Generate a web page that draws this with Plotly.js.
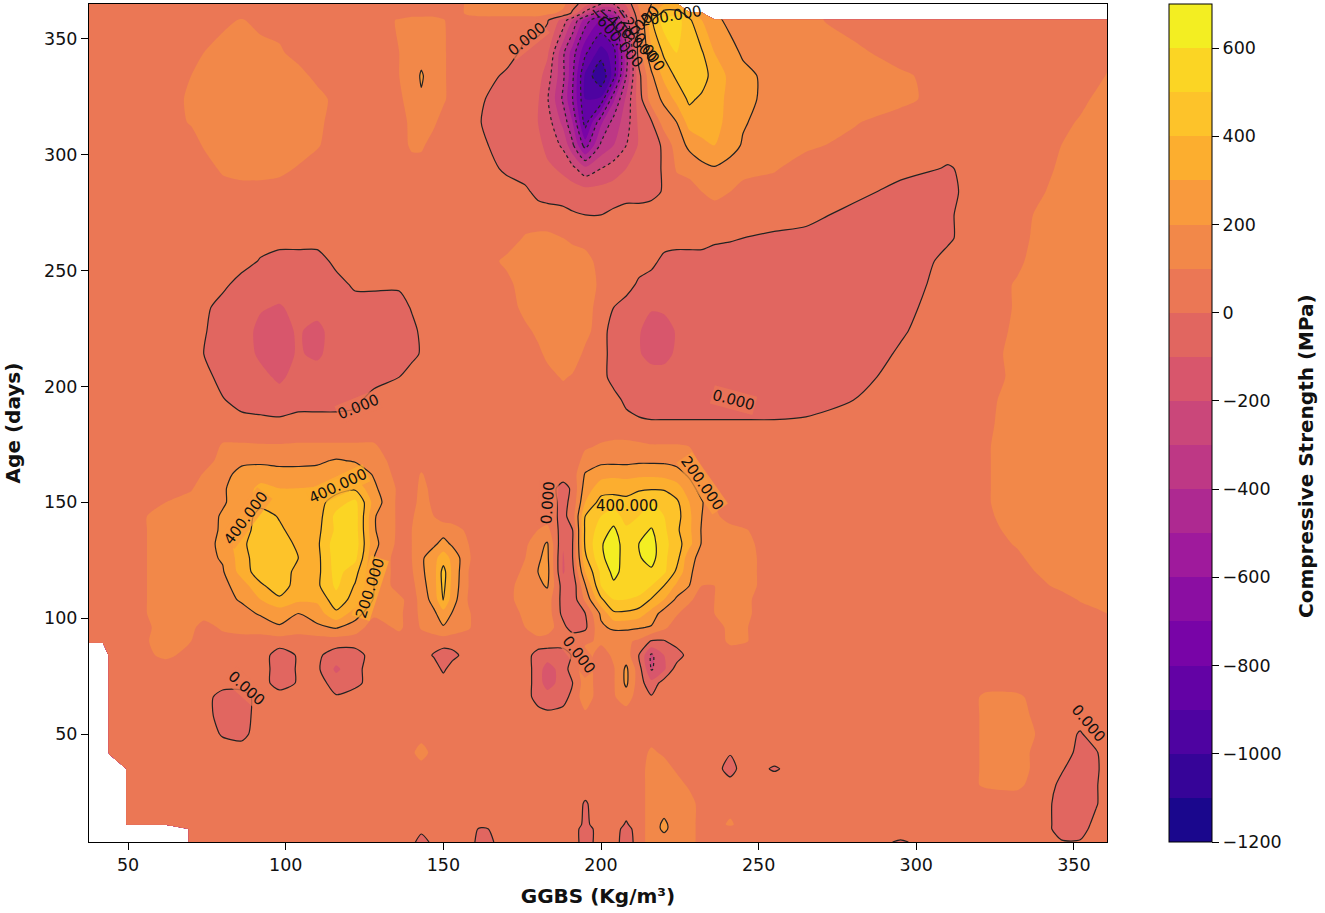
<!DOCTYPE html>
<html><head><meta charset="utf-8">
<script src="https://cdn.plot.ly/plotly-3.0.1.min.js"></script>
<style>html,body{margin:0;padding:0;background:#fff}#c{width:1325px;height:913px}</style>
</head><body><div id="c"></div>
<script>
const n=null, F=[5,5,5,5,5], N=[n,n,n,n,n], H=[15,15,15,15,15], M=[-5,-5,-5,-5,-5];
const ggbs=[37.6,42,44,50,62, 70,74,80,86,92, 98,104,110,116,122, 128,136,140,143,147, 150,153,158,162,170, 176,180,183,188,191, 195,200,204,208,212, 216,220,224,228,232, 236,241,245,255,265, 280,295,310,322,332, 340,346,352,357,360.5];
const age=[3.4,9,11,20,28,35,42,50,58,66,72,78,84,90,96,102,108,114,120,126,132,138,144,150,156,162,168,174,184,194,204,214,224,234,244,254,264,274,284,294,304,314,324,334,344,358,361,365];
// strength, in tens of MPa, one row per age
const strengthTens=[
[...N, 5,5,5,5,5, ...F, 5,5,5,-8,5, 5,5,5,-5,5, ...F, -5,5,5,-6,5, 15,15,15,15,5, ...F, 5,-1,5,5,5, 5,1,1,5,5],
[...N, ...F, ...F, ...F, 5,5,5,-2,5, ...F, -5,5,5,-4,5, 15,22,15,15,5, ...F, ...F, 5,-5,-5,5,5],
[n,n,n,5,5, ...F, ...F, ...F, ...F, ...F, -2,5,5,-1,5, 15,22,15,15,5, 5,12,5,5,5, ...F, 5,-5,-5,3,5],
[n,n,n,5,5, ...F, ...F, ...F, ...F, ...F, -1,5,5,5,5, 15,15,15,15,5, ...F, ...F, 5,-5,-5,-1,5],
[n,n,n,5,5, ...F, ...F, ...F, ...F, ...F, ...F, 15,15,15,8,5, ...F, 5,5,5,11,12, 5,-2,-5,-1,5],
[n,n,n,5,5, ...F, ...F, ...F, ...F, ...F, ...F, 15,15,8,5,5, 5,-5,5,-1,5, 5,5,5,11,15, 5,1,-5,-2,5],
[n,n,5,5,5, ...F, ...F, 5,5,8,15,6, ...F, ...F, ...F, 12,8,5,5,5, 5,1,5,5,5, 5,5,5,11,15, 5,5,-3,-1,5],
[n,n,5,5,5, 5,5,-1,-3,5, ...F, ...F, ...F, ...F, ...F, ...F, ...F, 5,5,5,11,15, 8,5,-1,5,5],
[n,n,5,5,5, 5,5,-5,-5,5, ...F, ...F, ...F, 5,5,2,5,5, 8,5,5,5,5, ...F, ...F, 5,5,5,11,15, ...F],
[n,n,5,5,5, 5,5,-5,-5,5, 5,5,5,1,5, ...F, ...F, 5,-5,-5,-5,4, 15,5,9,15,5, 1,5,5,5,5, ...F, 5,5,5,11,12, ...F],
[n,n,5,5,5, ...F, -5,1,5,-5,-3, ...F, ...F, 5,-5,-15,-5,0, 15,5,9,22,5, -7,5,5,5,5, ...F, 5,5,5,8,5, ...F],
[n,n,5,5,5, ...F, -5,1,2,-12,-3, ...F, -2,5,5,5,5, 5,-5,-15,-5,5, 15,5,9,22,5, -21,-12,5,5,5, ...F, ...F, ...F],
[n,n,5,5,12, 7,5,5,5,5, -5,1,2,-5,-5, 5,5,5,5,-1, -5,-3,5,5,5, 5,-5,-5,-5,1, 15,5,12,15,0, -22,-10,-6,5,5, ...F, ...F, ...F],
[5,5,5,5,14, 10,5,5,5,5, ...F, ...F, ...F, 5,7,5,5,8, 8,12,12,12,8, -1,-1,5,5,5, 5,12,11,5,5, ...F, ...F],
[5,5,5,5,13, 13,5,12,15,15, 19,15,18,21,15, 5,12,5,11,15, 19,15,11,5,5, 10,15,15,3,-5, -2,18,22,22,21, 19,12,5,5,5, 5,13,11,5,5, ...F, ...F],
[5,5,5,5,15, 15,15,15,17,21, 24,20,25,38,25, 12,12,5,13,18, 26,19,11,5,5, 12,15,15,-3,-6, 0,22,38,38,35, 26,15,11,5,5, 10,15,12,5,5, ...F, 5,5,5,7,10],
[5,5,5,5,15, 15,15,17,21,30, 38,32,32,46,36, 19,13,5,14,24, 41,24,9,5,8, 13,15,15,-4,-6, 12,38,50,50,48, 39,30,18,12,5, 10,15,12,5,5, ...F, 5,5,11,15,15],
[5,5,5,5,15, 15,15,17,25,38, 46,35,38,52,39, 20,5,7,16,26, 43,26,10,5,7, 14,18,21,-5,-7, 19,50,58,55,55, 50,40,28,20,10, 10,15,14,5,5, ...F, 8,13,15,15,15],
[5,5,5,5,15, 15,16,19,34,46, 47,36,37,54,44, 20,5,9,18,26, 44,27,10,5,5, 12,20,23,-11,-3, 30,52,63,56,56, 58,52,38,22,14, 11,15,14,5,5, ...F, 12,15,15,15,15],
[5,5,5,5,15, 15,17,21,35,47, 50,40,37,55,53, 20,5,10,18,27, 35,27,11,5,5, 10,19,22,-11,0, 38,58,65,55,59, 64,52,44,23,17, 12,15,14,5,5, 5,5,5,5,8, ...H],
[5,5,5,5,15, 15,17,22,37,48, 50,36,38,56,56, 23,7,10,15,18, 24,18,10,5,5, 8,17,21,-9,0, 42,59,65,55,60, 64,53,45,33,19, 14,15,13,5,5, 5,5,5,5,11, ...H],
[5,5,5,5,15, 15,17,21,34,46, 42,35,37,52,55, 21,8,10,14,15, 15,14,8,5,5, 5,10,13,-6,0, 42,55,62,52,56, 61,52,42,32,19, 15,13,11,5,5, 5,5,5,5,15, ...H],
[5,5,5,5,15, 15,16,21,32,45, 39,33,35,53,55, 21,8,9,14,10, 6,5,5,5,5, 5,5,5,-3,5, 40,50,55,46,50, 55,50,44,32,20, 12,6,5,5,5, 5,5,5,8,15, ...H],
[5,5,5,5,10, 14,15,19,24,36, 32,33,36,45,53, 26,7,6,14,8, ...F, 5,5,5,-3,3, 30,44,45,43,48, 50,46,42,30,21, 10,5,5,5,5, 5,5,5,9,15, ...H],
[...F, 9,15,19,24,33, 30,30,31,36,38, 22,8,5,13,7, ...F, 5,5,5,-4,2, 25,35,36,36,38, 39,39,34,25,15, 8,5,5,5,5, 5,5,5,9,15, ...H],
[...F, 5,11,17,23,25, 24,24,24,27,27, 19,6,5,11,5, ...F, ...F, 21,27,28,27,28, 28,27,25,18,12, ...F, 5,5,5,9,15, ...H],
[...F, 5,5,14,18,18, 17,17,18,21,19, 15,5,5,5,5, ...F, ...F, 13,17,17,17,18, 18,18,16,14,8, ...F, 5,5,5,9,15, ...H],
[...F, 5,5,11,11,11, 11,11,11,11,11, 11,5,5,5,5, ...F, ...F, 9,11,12,12,12, 11,11,11,10,5, ...F, 5,5,5,9,15, ...H],
[...F, 5,5,5,5,3, 2,5,5,5,5, ...F, ...F, ...F, 5,5,5,5,2, 1,1,1,1,1, 1,1,1,1,2, 5,5,5,8,15, ...H],
[...F, 5,5,1,-5,-5, -5,-5,-5,-5,-3, ...F, ...F, ...F, 5,5,5,-3,-5, ...M, ...M, 0,5,5,7,15, ...H],
[...F, 5,5,-5,-5,-7, -12,-6,-5,-5,-5, -5,0,5,5,5, ...F, 5,5,7,11,9, 5,5,-5,-5,-5, ...M, ...M, -5,5,5,5,13, ...H],
[...F, 5,0,-5,-5,-12, -14,-9,-12,-5,-5, -5,-5,-3,1,5, ...F, 5,8,12,14,15, 8,5,-5,-5,-9, -14,-14,-8,-5,-5, ...M, -5,1,5,5,14, ...H],
[...F, 5,1,-5,-5,-13, -13,-9,-13,-5,-5, -5,-5,-3,2,5, ...F, 8,12,15,15,15, 13,5,-5,-5,-9, -15,-15,-9,-5,-5, ...M, -5,-1,5,5,12, ...H],
[...F, 5,3,-5,-5,-9, -11,-7,-6,-5,-5, -5,-5,1,5,5, ...F, 13,15,15,15,15, 15,5,0,-5,-6, -9,-8,-5,-5,-5, ...M, -5,-3,5,5,11, ...H],
[...F, 5,5,3,-5,-5, -5,-5,-5,-4,2, 2,2,5,5,5, 5,5,5,5,7, ...H, 15,8,5,5,-2, ...M, ...M, -5,-5,4,5,11, ...H],
[...F, 5,5,5,5,-1, -5,-5,-5,3,5, ...F, 5,5,5,5,12, ...H, 15,5,5,5,5, 3,-3,-5,-5,-5, ...M, -5,-5,2,5,8, 15,15,15,15,15],
[...F, ...F, ...F, ...F, ...F, 11,12,12,10,8, ...F, ...F, 2,1,0,-2,-5, -5,-5,-1,5,5, 15,15,15,15,15],
[...F, ...F, ...F, ...F, ...F, 5,5,5,3,1, 0,0,2,5,5, ...F, ...F, -5,-5,-1,5,5, 13,15,15,15,15],
[...F, ...F, ...F, ...F, ...F, 2,-3,-5,-5,-5, -6,-6,-5,-5,-5, -3,1,5,5,10, 13,10,6,5,5, 5,-5,-2,5,5, 9,15,15,15,15],
[...F, 5,5,12,15,15, 13,9,5,5,5, ...F, 5,5,5,5,-2, -5,-5,-8,-12,-17, -27,-20,-15,-10,-6, -3,1,11,14,17, 19,16,14,11,5, 5,5,-1,5,5, 5,13,15,15,15],
[...F, 5,11,15,15,15, 15,15,11,5,5, 5,5,12,12,5, 5,5,5,2,-5, -5,-7,-13,-22,-38, -65,-38,-30,-20,-9, -5,2,15,22,27, 30,24,19,13,12, 7,5,5,5,5, 5,10,15,15,15],
[...F, 11,15,15,15,15, 15,15,13,5,5, 5,5,13,15,12, 5,5,5,0,-5, -5,-10,-15,-33,-50, -85,-52,-36,-25,-8, -1,15,20,34,36, 34,26,21,15,14, 11,5,5,5,5, 5,5,12,15,15],
[...F, 12,15,15,15,15, 15,15,15,6,5, 5,8,15,19,15, 12,5,5,1,-5, -5,-9,-19,-42,-60, -90,-88,-52,-28,-5, 15,22,33,42,38, 33,28,24,15,15, 13,13,5,5,5, 5,5,5,13,15],
[...F, 10,15,15,15,15, 15,15,6,5,5, 5,10,15,21,15, 12,5,5,5,-2, -5,-6,-15,-38,-58, -92,-110,-85,-40,-3, 18,33,42,45,45, 35,28,24,15,15, 15,12,5,5,5, 5,5,5,5,11],
[...F, 5,10,15,15,15, 12,5,5,5,5, 5,10,15,17,15, 12,5,5,5,5, -3,-5,-8,-38,-55, -78,-95,-85,-45,5, 28,42,50,46,41, 30,25,18,15,15, 13,5,5,5,5, ...F],
[...F, 5,5,7,11,6, ...F, 5,11,15,15,15, 11,5,5,5,5, 5,5,1,-14,-30, -55,-70,-60,-25,5, 38,55,55,42,30, 24,16,15,15,13, ...F, ...F],
[...F, ...F, ...F, ...F, 5,5,12,14,14, 14,14,12,8,-2, -25,-50,-45,-18,8, 25,45,45,35,20, ...N, ...N, ...N],
[...F, ...F, ...F, ...F, 5,5,12,15,15, 15,15,12,12,4, -5,-20,-20,-8,12, 20,30,30,n,n, ...N, ...N, ...N]
];
const strength=strengthTens.map(r=>r.map(v=>v===null?null:v*10));
const bandColors=['#1a078d','#360498','#4e03a1','#6302a5','#7804a7','#8b0ea2','#9f1a9c','#ae2991','#be3885','#ca477a','#d8566c','#e16660','#eb7755','#f28849','#f99a3d','#fcae2f','#fdc32a','#fbd524','#f3ee22'];
const barTicks=[-1200,-1000,-800,-600,-400,-200,0,200,400,600];
// contour labels: text, GGBS, age, rotation, backing
const BASE='rgba(235,119,85,0.75)', AMB='rgba(249,154,61,0.75)', GOLD='rgba(252,174,47,0.75)', CLEAR='rgba(0,0,0,0)';
const labelTexts=['0.000','0.000','0.000','0.000','0.000','0.000','0.000','400.000','400.000','400.000','200.000','200.000','200.000','−600.000','−400.000','−200.000','0.000'];
const labelX=[176.5,123,241.9,183.2,193,87.4,354.5,87.4,116.6,208.3,126.8,232,222.2,204.8,208.3,212.4,213];
const labelY=[350,191,194,149.6,84,69.8,54.7,143.1,156.9,148.3,113,158.2,360,350.9,352,350,356.9];
const labelAngle=[-39,-22,15,-86,52,42,50,-53,-25,0,-72,55,-10,50,42,55,-45];
const labelBack=[BASE,BASE,BASE,BASE,BASE,BASE,CLEAR,AMB,GOLD,CLEAR,GOLD,AMB,CLEAR,CLEAR,CLEAR,CLEAR,CLEAR];
const fillScale=bandColors.map((c,i)=>[i/(bandColors.length-1),c]);
const barScale=[];bandColors.forEach((c,i)=>{barScale.push([i/bandColors.length,c]);barScale.push([(i+1)/bandColors.length,c]);});
const font='"DejaVu Sans", sans-serif';
const lineBase={type:'contour',x:ggbs,y:age,z:strength,showscale:false,hoverinfo:'skip',connectgaps:false};
const data=[
 Object.assign({},lineBase,{colorscale:fillScale,autocontour:false,
   contours:{coloring:'fill',showlines:false,start:-1100,end:600,size:100},line:{width:0,smoothing:0.7}}),
 Object.assign({},lineBase,{autocontour:false,
   contours:{coloring:'none',start:-1000,end:-200,size:200},
   line:{color:'#222',width:1.2,dash:'dot',smoothing:0.7}}),
 Object.assign({},lineBase,{autocontour:false,
   contours:{coloring:'none',start:0,end:600,size:200},
   line:{color:'#222',width:1.2,smoothing:0.7}}),
 {type:'heatmap',x:[1000,1001],y:[1000],z:[[-1200,700]],zmin:-1200,zmax:700,colorscale:barScale,hoverinfo:'skip',
  colorbar:{x:1.0609,xanchor:'left',xpad:0,y:0.5,yanchor:'middle',ypad:0,len:1,thickness:43,outlinecolor:'#000',outlinewidth:1,
    tickvals:barTicks,ticks:'outside',ticklen:7,tickcolor:'#000',tickfont:{family:font,size:17.5,color:'#111'}}}
];
const annotations=labelTexts.map((t,i)=>({text:t,x:labelX[i],y:labelY[i],xref:'x',yref:'y',showarrow:false,xanchor:'center',yanchor:'middle',
   textangle:labelAngle[i],bgcolor:labelBack[i],borderpad:0,font:{family:font,size:15,color:'#111'}}));
annotations.push({text:'<b>Compressive Strength (MPa)</b>',xref:'paper',yref:'paper',x:1.1955,y:0.4606,showarrow:false,xanchor:'center',yanchor:'middle',
   textangle:-90,font:{family:font,size:20,color:'#111'}});
const layout={width:1325,height:913,margin:{l:89,r:218,t:4,b:71},paper_bgcolor:'#fff',plot_bgcolor:'#fff',showlegend:false,
 font:{family:font,color:'#111'},annotations:annotations,
 xaxis:{range:[37.6,360.5],autorange:false,tickvals:[50,100,150,200,250,300,350],ticks:'outside',ticklen:7,tickcolor:'#000',showgrid:false,zeroline:false,
   showline:true,mirror:true,linecolor:'#000',linewidth:1,tickfont:{family:font,size:17.5,color:'#111'},
   title:{text:'<b>GGBS (Kg/m³)</b>',font:{family:font,size:20,color:'#111'},standoff:14}},
 yaxis:{range:[3.4,365],autorange:false,tickvals:[50,100,150,200,250,300,350],ticks:'outside',ticklen:7,tickcolor:'#000',showgrid:false,zeroline:false,
   showline:true,mirror:true,linecolor:'#000',linewidth:1,tickfont:{family:font,size:17.5,color:'#111'},
   title:{text:'<b>Age (days)</b>',font:{family:font,size:20,color:'#111'},standoff:18}}
};
Plotly.newPlot('c',data,layout,{displayModeBar:false,staticPlot:true});
</script></body></html>
